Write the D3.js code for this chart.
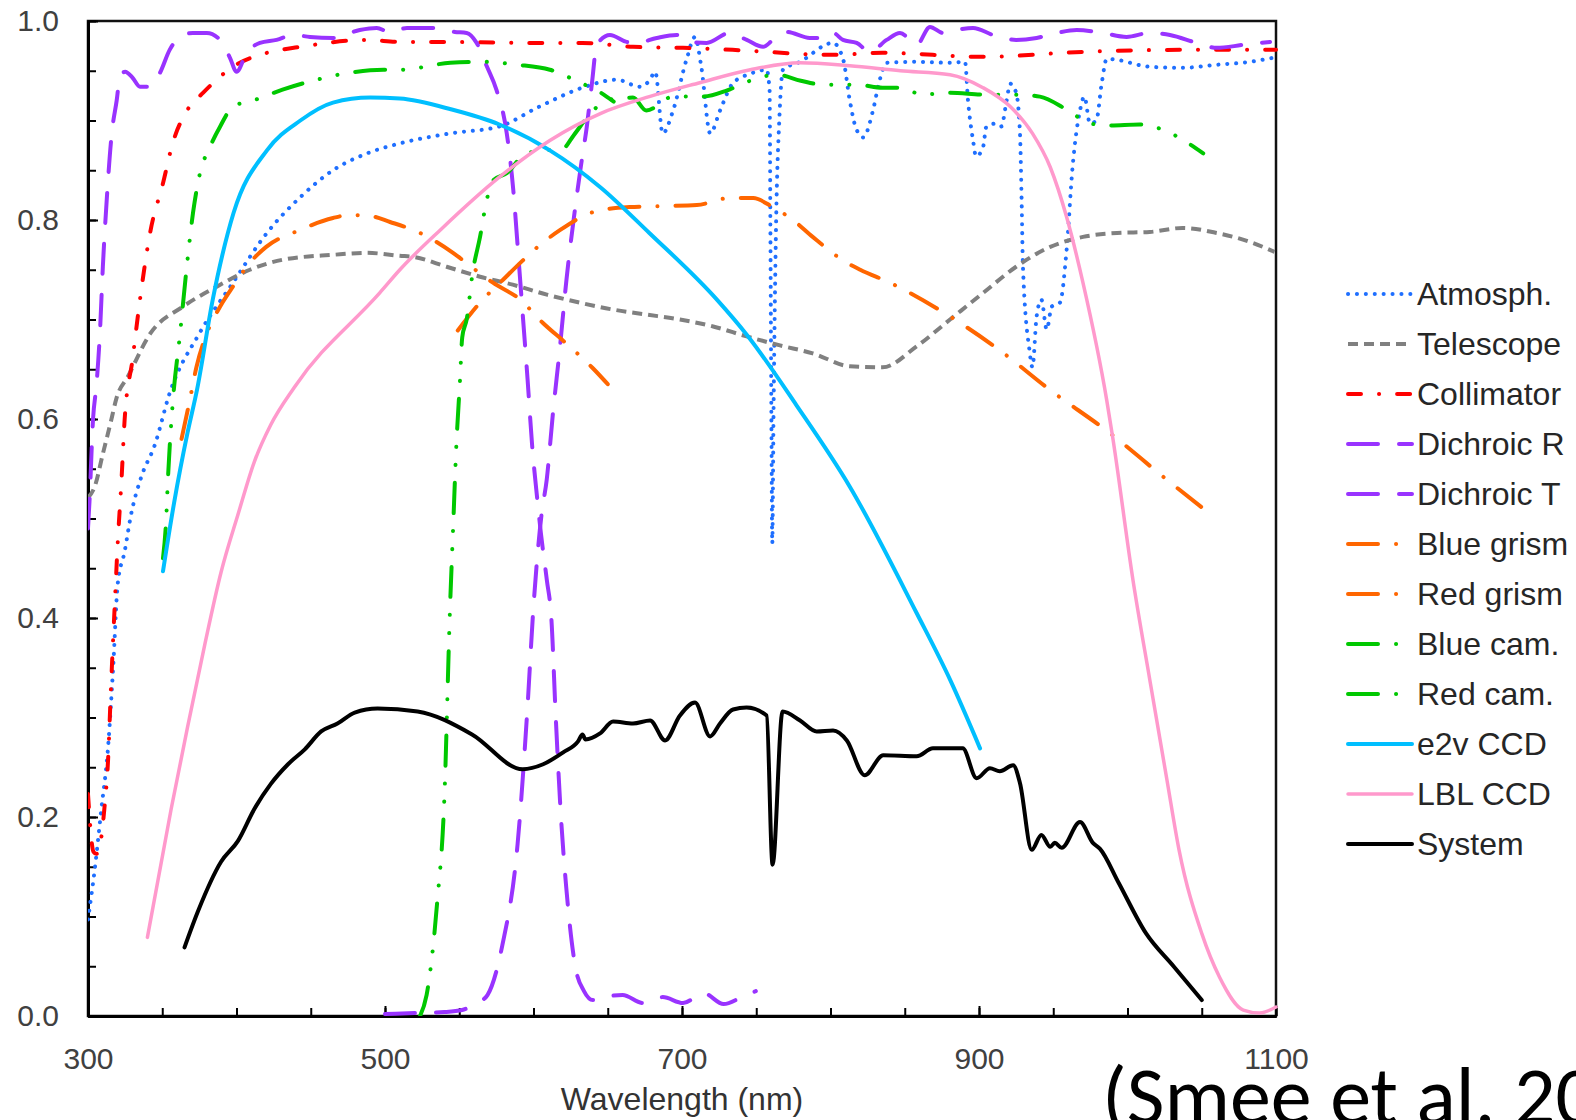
<!DOCTYPE html>
<html>
<head>
<meta charset="utf-8">
<script src="https://cdn.jsdelivr.net/npm/d3@7"></script>
<style>
  html, body { margin: 0; padding: 0; background: #fff; overflow: hidden; }
  svg { display: block; }
  .axis text { font-family: "Liberation Sans", Arial, sans-serif; font-size: 30px; fill: #404040; }
  .axis line { stroke: #000; stroke-width: 2px; }
  .axis path { stroke: #000; stroke-width: 3px; }
</style>
</head>
<body>
<svg id="chart"></svg>
<script>
  // ---- data: [wavelength nm, throughput] ----
  const atmosph = [[300,0.097],[304.5,0.147],[309,0.208],[313.5,0.27],[317,0.352],[320,0.434],[324.7,0.467],[329,0.504],[335.7,0.541],[345,0.574],[355,0.626],[375,0.686],[397.6,0.737],[420.5,0.787],[443,0.823],[465,0.85],[488,0.867],[510,0.877],[543.8,0.887],[577,0.894],[604,0.914],[633,0.933],[656,0.941],[671.7,0.934],[678,0.94],[682,0.949],[687,0.887],[694,0.91],[703,0.961],[708.8,0.984],[713,0.954],[719,0.887],[725.6,0.91],[734,0.937],[746,0.947],[757,0.951],[759,0.93],[759.5,0.8],[760.2,0.6],[760.8,0.475],[761.6,0.6],[763.4,0.8],[765.5,0.9],[768,0.951],[779.5,0.959],[801.7,0.978],[808.6,0.961],[813,0.92],[817,0.893],[822,0.883],[828.6,0.91],[833,0.94],[838,0.958],[858,0.959],[880.5,0.958],[890.6,0.959],[892.6,0.92],[896,0.88],[898,0.864],[902.7,0.873],[905,0.894],[912,0.897],[915,0.894],[918.6,0.92],[921,0.937],[925,0.928],[927.6,0.887],[928.7,0.82],[929.6,0.753],[934,0.669],[936,0.652],[938.8,0.703],[942,0.72],[945.6,0.69],[949,0.713],[954.5,0.717],[959,0.77],[963,0.853],[968,0.91],[971,0.924],[974.7,0.897],[979,0.9],[982.6,0.937],[986,0.962],[992.7,0.961],[1015,0.954],[1037,0.953],[1060,0.956],[1082.5,0.959],[1098,0.963]];

  const telescope = [[300,0.521],[304.5,0.532],[310,0.565],[315.5,0.598],[319,0.62],[327,0.643],[342,0.686],[364,0.713],[386.7,0.733],[409,0.75],[431,0.76],[465,0.765],[488,0.767],[510,0.764],[519,0.763],[541.5,0.753],[564,0.743],[586,0.735],[609,0.725],[631,0.717],[653.5,0.71],[676,0.705],[698.6,0.7],[721,0.693],[743.5,0.683],[766,0.674],[788,0.666],[813,0.653],[835,0.652],[858,0.673],[880.5,0.7],[903,0.727],[925,0.753],[948,0.773],[970,0.783],[993,0.787],[1015,0.788],[1037,0.792],[1060,0.787],[1082.5,0.778],[1099,0.768]];

  const collimator = [[300,0.223],[303.7,0.165],[305.6,0.163],[309,0.18],[311,0.208],[313.5,0.257],[315.5,0.331],[318,0.413],[320,0.475],[322.5,0.537],[324.7,0.6],[330,0.66],[335,0.72],[341.8,0.787],[350.5,0.837],[357,0.877],[366.7,0.91],[377.6,0.928],[397.6,0.954],[420.5,0.968],[443,0.974],[488,0.981],[510,0.979],[532,0.979],[600,0.978],[633,0.978],[667,0.974],[700.7,0.973],[734,0.971],[801.7,0.966],[835,0.968],[902.7,0.964],[970,0.969],[1037,0.971],[1100,0.971]];

  const dichroicR = [[300,0.49],[301,0.517],[303.4,0.6],[305.8,0.636],[308,0.686],[310,0.753],[312.6,0.82],[316,0.887],[319.3,0.92],[321.5,0.944],[325,0.949],[330,0.943],[335,0.934],[341.8,0.934],[348.5,0.948],[355,0.971],[362,0.984],[370.7,0.988],[380,0.988],[389,0.981],[395.6,0.963],[400,0.949],[406.9,0.968],[415.8,0.978],[427,0.981],[438,0.986],[449.5,0.984],[465,0.983],[483,0.991],[494.4,0.993],[503,0.989],[514.8,0.993],[532,0.993],[547,0.989],[555,0.988],[561.7,0.978],[568.7,0.954],[575,0.931],[582,0.887],[586.4,0.83],[590,0.76],[593,0.7],[596,0.64],[599,0.575],[602.5,0.52],[605,0.485],[609,0.438],[612,0.4],[615,0.3],[618.5,0.2],[622,0.13],[628,0.051],[634,0.025],[640,0.016],[650,0.02],[660,0.021],[673.7,0.013],[687,0.019],[700.7,0.013],[714.5,0.023],[728,0.012],[741.5,0.02],[749.7,0.025]];

  const dichroicT = [[500,0.002],[520,0.003],[540,0.004],[552,0.006],[557,0.009],[563,0.014],[569,0.021],[579,0.071],[589.3,0.173],[596.1,0.314],[599.7,0.405],[602.2,0.455],[605.5,0.505],[608.9,0.539],[613.1,0.606],[617.8,0.672],[622.2,0.74],[627,0.8],[632,0.855],[636,0.895],[639.4,0.938],[642.6,0.976],[651.5,0.986],[662.7,0.979],[669.5,0.978],[683,0.983],[696.4,0.986],[705,0.979],[716.6,0.978],[732,0.988],[743.6,0.981],[754.6,0.974],[761.3,0.981],[770.5,0.989],[786,0.983],[797.4,0.983],[801.7,0.988],[808.4,0.981],[817.6,0.978],[826.6,0.969],[837.8,0.981],[846.8,0.988],[858,0.976],[867,0.994],[875.8,0.988],[885,0.991],[896,0.993],[909.4,0.986],[925,0.981],[938.8,0.983],[952.3,0.988],[965.8,0.991],[983.5,0.988],[999.4,0.984],[1015,0.988],[1028.6,0.986],[1046.6,0.978],[1060,0.973],[1077.8,0.976],[1096,0.979]];

  const blueGrism = [[363,0.58],[368,0.615],[373,0.652],[380,0.686],[389,0.713],[397.6,0.733],[409,0.757],[420,0.773],[442.8,0.79],[465,0.802],[476.4,0.805],[490,0.804],[503.4,0.798],[523.6,0.787],[545.8,0.767],[559,0.752],[572.7,0.737],[591,0.72],[606,0.697],[622,0.676],[640,0.651],[650,0.635]];

  const redGrism = [[549,0.689],[564,0.717],[579.5,0.74],[595.4,0.763],[604.4,0.775],[618,0.79],[631,0.802],[642.5,0.809],[665,0.813],[687,0.814],[710,0.815],[732,0.822],[748,0.822],[761,0.813],[774.7,0.8],[788,0.783],[811,0.757],[820,0.75],[840,0.737],[880.5,0.703],[914,0.669],[948,0.629],[988,0.586],[1024,0.542],[1051,0.51]];

  const blueCam = [[350.5,0.46],[352.5,0.495],[354,0.545],[357,0.615],[362,0.686],[366.5,0.753],[370.7,0.807],[375.4,0.847],[382,0.873],[389,0.894],[397.6,0.914],[411,0.92],[431,0.931],[454,0.941],[476,0.948],[499,0.951],[510,0.951],[544,0.958],[566,0.959],[589,0.956],[611,0.951],[633,0.937],[643,0.93],[654,0.919]];

  const redCam = [[523.6,0.0],[528,0.021],[535,0.112],[540,0.22],[543.8,0.411],[545.8,0.488],[548,0.572],[550.5,0.639],[552,0.682],[555,0.7],[559,0.747],[564,0.783],[568.5,0.82],[573,0.84],[582,0.847],[595,0.867],[609,0.87],[620,0.872],[627,0.885],[640,0.91],[655,0.922],[667,0.923],[676,0.91],[694,0.924],[714,0.924],[730,0.93],[744,0.939],[764,0.946],[780,0.94],[795,0.936],[818,0.936],[835,0.933],[847,0.933],[862,0.926],[880,0.928],[905,0.926],[925,0.926],[941,0.924],[959,0.911],[975,0.897],[988,0.895],[1008,0.896],[1025,0.89],[1040,0.878],[1051,0.867]];

  const e2vCCD = [[350.5,0.447],[358,0.516],[367,0.586],[373.5,0.63],[384,0.72],[398,0.807],[420.5,0.87],[443,0.9],[465,0.918],[490,0.923],[510,0.922],[545,0.911],[577,0.896],[611,0.87],[645,0.833],[678,0.787],[723.5,0.72],[744,0.684],[777,0.614],[813,0.532],[858,0.405],[880.5,0.338],[900.7,0.269]];

  const lblCCD = [[340,0.079],[356,0.208],[367,0.29],[378.6,0.373],[389.6,0.446],[401,0.504],[412,0.557],[423,0.594],[439,0.632],[496.6,0.727],[510,0.75],[538,0.791],[577,0.843],[611,0.88],[645,0.907],[678,0.924],[712,0.938],[746,0.951],[779.5,0.958],[813,0.955],[847,0.95],[880.5,0.946],[902.7,0.933],[921,0.914],[936,0.887],[948,0.853],[959,0.803],[970,0.737],[986,0.619],[990,0.582],[1003.7,0.438],[1015,0.338],[1026.6,0.237],[1034.7,0.167],[1050,0.083],[1062,0.039],[1078,0.006],[1089,0.003],[1100,0.009]];

  const system = [[365,0.069],[374,0.105],[389.6,0.155],[401,0.176],[412,0.208],[423,0.233],[434.7,0.253],[446,0.268],[457,0.286],[468,0.294],[479.6,0.305],[495,0.309],[522,0.306],[558.6,0.283],[592.7,0.248],[606.5,0.253],[620,0.265],[630,0.276],[633,0.283],[635,0.278],[644.8,0.284],[653.6,0.296],[667,0.294],[678.5,0.297],[688.6,0.277],[698.6,0.302],[708.8,0.315],[718.9,0.281],[725.6,0.294],[734.4,0.308],[743.5,0.31],[757,0.302],[761,0.152],[767.7,0.306],[779.5,0.297],[790.7,0.286],[801.7,0.287],[811,0.277],[823,0.242],[835.5,0.262],[858,0.261],[869,0.269],[889,0.269],[898.4,0.239],[907.4,0.249],[914,0.246],[923,0.252],[927.6,0.234],[935.5,0.167],[942,0.182],[948,0.17],[951,0.174],[955.7,0.169],[968,0.195],[976.7,0.174],[981.5,0.168],[994,0.134],[1012.5,0.083],[1031,0.05],[1050,0.016]];

  const seriesNames = ["Atmosph.", "Telescope", "Collimator", "Dichroic R", "Dichroic T",
                       "Blue grism", "Red grism", "Blue cam.", "Red cam.", "e2v CCD", "LBL CCD", "System"];
  const xTickLabels = [300, 500, 700, 900, 1100];
  const yTickLabels = [0, 0.2, 0.4, 0.6, 0.8, 1.0];
  const xTitle = "Wavelength (nm)";
  const citation = "(Smee et al. 2013)";

  const margin = {top: 21, right: 300, bottom: 104, left: 88},
        width = 1188,
        height = 995;

  // line styles, in the same order as seriesNames
  const styles = [
    {data: atmosph,    color: "#1f6fff", w: 4,   dash: "0.1 8.8", cap: "round"},
    {data: telescope,  color: "#808080", w: 4,   dash: "10 6",    cap: "butt"},
    {data: collimator, color: "#ff0000", w: 4,   dash: "13 18 0.1 18", cap: "round"},
    {data: dichroicR,  color: "#9933ff", w: 4,   dash: "30 21",   cap: "round"},
    {data: dichroicT,  color: "#9933ff", w: 4,   dash: "30 21",   cap: "round"},
    {data: blueGrism,  color: "#ff6600", w: 4,   dash: "30 18 0.1 18", cap: "round"},
    {data: redGrism,   color: "#ff6600", w: 4,   dash: "30 18 0.1 18", cap: "round"},
    {data: blueCam,    color: "#00c800", w: 4,   dash: "30 18 0.1 18 0.1 18", cap: "round"},
    {data: redCam,     color: "#00c800", w: 4,   dash: "30 18 0.1 18 0.1 18", cap: "round"},
    {data: e2vCCD,     color: "#00bfff", w: 4,   dash: null,      cap: "round"},
    {data: lblCCD,     color: "#ff99cc", w: 3.5, dash: null,      cap: "round"},
    {data: system,     color: "#000000", w: 4,   dash: null,      cap: "round"}
  ];

  let x = d3.scaleLinear()
            .domain([300, 1100])
            .range([0, width]);

  let y = d3.scaleLinear()
            .domain([0, 1])
            .range([height, 0]);

  let svg = d3.select("#chart")
              .attr("width", width + margin.left + margin.right)
              .attr("height", height + margin.top + margin.bottom);

  svg.append("rect")
     .attr("width", 1576)
     .attr("height", 1120)
     .attr("fill", "#fff");

  let chart = svg.append("g")
                 .attr("transform", "translate(" + margin.left + "," + margin.top + ")");

  chart.append("clipPath")
       .attr("id", "plot-clip")
       .append("rect")
       .attr("x", 0)
       .attr("y", -4)
       .attr("width", width + 2)
       .attr("height", height + 4);

  // Border (top and right)
  chart.append("rect")
       .attr("width", width)
       .attr("height", height)
       .style("fill", "none")
       .style("stroke", "#111")
       .style("stroke-width", 2.5);

  // minor ticks
  chart.append("g")
       .attr("class", "axis")
       .attr("transform", "translate(0," + height + ")")
       .call(d3.axisBottom(x).tickValues(d3.range(300, 1101, 50)).tickSize(-8).tickSizeOuter(0).tickFormat(""));

  chart.append("g")
       .attr("class", "axis")
       .call(d3.axisLeft(y).tickValues(d3.range(0, 1.001, 0.05)).tickSize(-8).tickSizeOuter(0).tickFormat(""));

  // x-Axis
  chart.append("g")
       .attr("class", "x-axis axis")
       .attr("transform", "translate(0," + height + ")")
       .call(d3.axisBottom(x).tickValues(xTickLabels).tickSize(-10).tickSizeOuter(0).tickPadding(32)
               .tickFormat(d3.format("d")));

  // y-Axis
  chart.append("g")
       .attr("class", "y-axis axis")
       .call(d3.axisLeft(y).tickValues(yTickLabels).tickSize(-10).tickSizeOuter(0).tickPadding(29)
               .tickFormat(d3.format(".1f")));

  // x-Axis Label
  chart.append("text")
       .attr("text-anchor", "middle")
       .attr("x", width / 2)
       .attr("y", height + 94)
       .attr("font-family", "Liberation Sans, Arial, sans-serif")
       .attr("font-size", 32)
       .attr("fill", "#333")
       .text(xTitle);

  let line = d3.line()
               .x((d) => { return x(d[0]); })
               .y((d) => { return y(d[1]); })
               .curve(d3.curveMonotoneX);

  // Data lines
  chart.append("g")
       .attr("clip-path", "url(#plot-clip)")
       .selectAll("path")
       .data(styles)
       .enter()
       .append("path")
       .attr("d", (d) => { return line(d.data); })
       .style("fill", "none")
       .style("stroke", (d) => { return d.color; })
       .style("stroke-width", (d) => { return d.w; })
       .style("stroke-linecap", (d) => { return d.cap; })
       .style("stroke-linejoin", "round")
       .style("stroke-dasharray", (d) => { return d.dash; });

  // Legend
  let legend = svg.append("g")
                  .attr("transform", "translate(1348,294)");

  let rows = legend.selectAll("g")
                   .data(styles)
                   .enter()
                   .append("g")
                   .attr("transform", (d, i) => { return "translate(0," + i * 50 + ")"; });

  rows.append("line")
      .attr("x1", 0)
      .attr("x2", 64)
      .style("stroke", (d) => { return d.color; })
      .style("stroke-width", (d) => { return d.w; })
      .style("stroke-linecap", (d) => { return d.cap; })
      .style("stroke-dasharray", (d) => { return d.dash; });

  rows.append("text")
      .attr("x", 69)
      .attr("dy", "0.35em")
      .attr("font-family", "Liberation Sans, Arial, sans-serif")
      .attr("font-size", 32)
      .attr("fill", "#262626")
      .text((d, i) => { return seriesNames[i]; });

  // citation, runs off the right edge like the original slide
  svg.append("text")
     .attr("x", 1102)
     .attr("y", 1124)
     .attr("font-family", "Carlito, Calibri, Lato, sans-serif")
     .attr("font-size", 82)
     .attr("fill", "#000")
     .text(citation);
</script>
</body>
</html>
